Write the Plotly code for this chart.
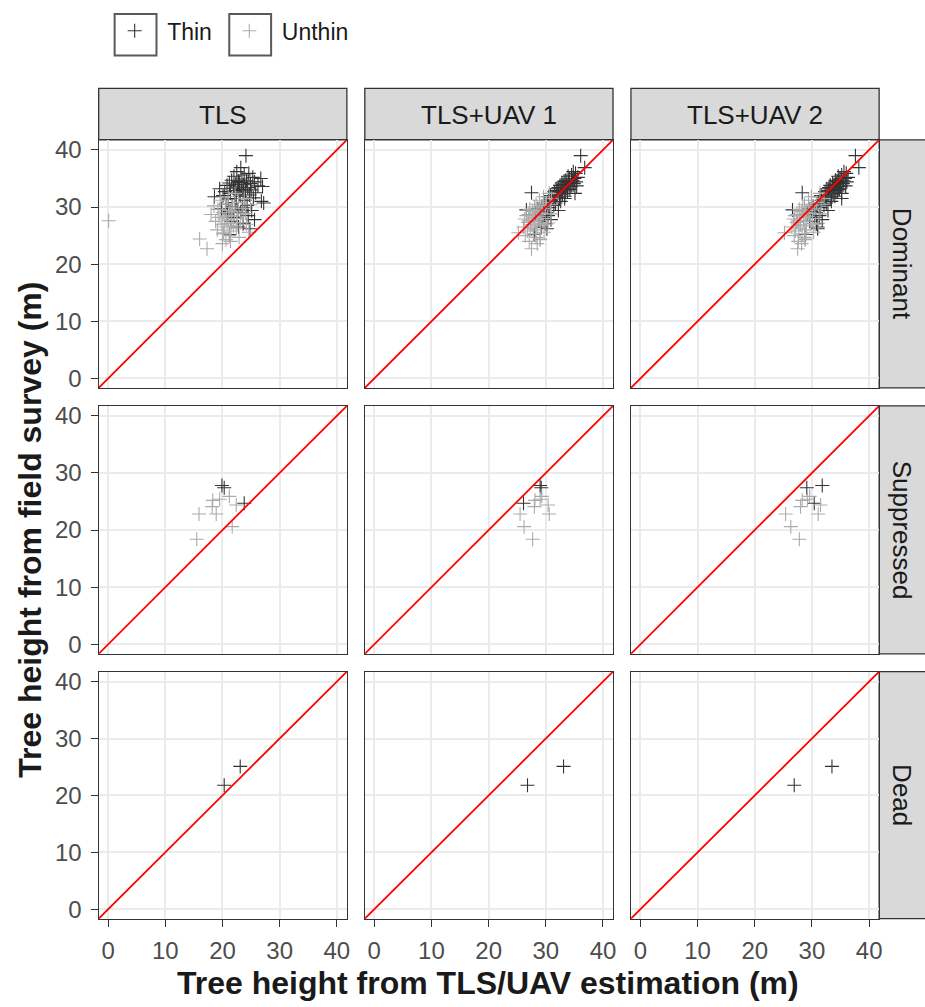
import plotly.graph_objects as go

# ---------------- data ----------------
methods = ["TLS", "TLS+UAV 1", "TLS+UAV 2"]
classes = ["Dominant", "Suppressed", "Dead"]
groups = ["Thin", "Unthin"]
tick_vals = [0, 10, 20, 30, 40]

# Dominant, Thin: field height and estimates by method
dom_thin_field = [39.0, 36.9, 36.2, 35.9, 35.6, 35.4, 35.2, 35.0, 34.9, 34.7, 34.6, 34.5, 34.4, 34.3, 34.2,
                  34.1, 34.0, 33.9, 33.8, 33.7, 33.6, 33.5, 33.4, 33.3, 33.2, 33.1, 33.0, 32.9, 32.8, 32.7,
                  32.6, 32.5, 32.4, 32.3, 32.1, 32.0, 31.9, 31.8, 31.6, 31.5, 31.4, 31.2, 31.0, 30.8, 30.7,
                  30.5, 30.3, 30.1, 29.9, 29.7, 29.5, 29.4, 29.2, 29.0, 28.8, 28.5, 28.2, 27.8, 27.5, 27.1,
                  26.5, 25.2, 26.2]
dom_thin_tls = [24.1, 23.2, 22.5, 24.6, 23.8, 22.0, 25.3, 26.7, 23.4, 21.6, 24.2, 22.8, 25.6, 23.0, 21.2,
                24.9, 22.3, 23.7, 20.8, 26.2, 27.0, 22.6, 24.4, 21.9, 19.5, 23.3, 25.0, 22.1, 24.0, 20.4,
                23.6, 25.8, 21.4, 22.9, 24.7, 20.1, 23.1, 18.6, 25.4, 22.4, 21.0, 23.9, 26.8, 22.2, 27.2,
                20.6, 24.3, 21.7, 23.5, 19.8, 22.7, 25.1, 21.3, 23.2, 20.9, 24.5, 22.0, 25.6, 21.5, 23.6,
                22.8, 21.2, 24.8]
dom_thin_uav1 = [36.1, 36.8, 34.8, 35.2, 34.5, 33.9, 35.6, 35.0, 34.1, 33.5, 34.7, 33.2, 35.3, 34.0, 32.8,
                 34.9, 33.6, 33.0, 32.5, 35.4, 34.4, 33.1, 32.2, 33.7, 31.8, 34.2, 33.4, 32.0, 33.8, 31.5,
                 32.7, 27.5, 35.1, 32.9, 31.9, 30.8, 33.3, 30.5, 32.4, 33.3, 31.2, 30.9, 32.6, 30.3, 31.7,
                 29.8, 31.4, 29.3, 30.6, 28.6, 26.6, 32.2, 29.0, 30.1, 28.2, 30.4, 29.5, 30.9, 28.8, 29.9,
                 29.2, 28.0, 30.2]
dom_thin_uav2 = [37.6, 38.2, 35.6, 36.0, 35.2, 34.6, 36.3, 35.8, 34.9, 34.1, 35.5, 34.4, 36.1, 34.7, 33.6,
                 35.4, 34.3, 33.9, 33.2, 35.9, 35.0, 33.8, 33.0, 34.6, 32.6, 34.8, 34.2, 32.9, 34.5, 32.3,
                 33.5, 28.3, 35.2, 33.7, 32.8, 31.6, 34.0, 31.4, 33.2, 35.2, 32.0, 31.7, 33.4, 31.2, 32.5,
                 30.9, 32.1, 30.2, 31.5, 29.5, 26.6, 32.8, 29.9, 30.7, 29.2, 31.3, 30.5, 31.8, 29.6, 30.8,
                 31.0, 28.9, 31.0]

# Dominant, Unthin
dom_unthin_field = [27.6, 24.4, 22.7, 25.5, 27.2, 31.8, 31.2, 30.8, 30.5, 30.2, 30.0, 29.8, 29.6, 29.4, 29.2,
                    29.0, 28.9, 28.7, 28.5, 28.4, 28.2, 28.0, 27.9, 27.7, 27.5, 27.3, 27.1, 26.9, 26.7, 26.5,
                    26.3, 26.0, 25.8, 25.6, 25.3, 25.0, 24.7, 24.3, 24.0, 23.6, 32.4, 31.5, 30.4, 28.8, 27.0]
dom_unthin_tls = [0.1, 16.0, 17.3, 20.2, 22.5, 21.0, 19.6, 22.8, 20.5, 18.5, 21.8, 23.4, 19.2, 21.3, 22.1,
                  20.0, 24.0, 18.0, 21.6, 20.7, 19.4, 22.6, 20.3, 21.1, 18.8, 23.1, 20.8, 19.9, 21.9, 20.4,
                  22.4, 19.1, 21.5, 24.6, 20.1, 21.2, 22.9, 20.6, 21.4, 20.0, 22.2, 23.8, 24.9, 23.6, 24.2]
dom_unthin_uav1 = [27.0, 29.0, 27.5, 25.2, 30.4, 29.6, 28.9, 30.1, 28.3, 29.4, 28.0, 29.9, 27.2, 28.6, 27.7,
                   29.2, 28.4, 27.0, 26.6, 28.8, 27.9, 29.5, 26.3, 27.4, 28.1, 26.9, 29.1, 27.6, 28.5, 26.1,
                   27.3, 28.2, 26.8, 29.7, 27.8, 26.4, 28.3, 29.0, 27.1, 28.5, 30.6, 31.0, 30.8, 30.9, 30.0]
dom_unthin_uav2 = [27.5, 28.8, 27.5, 25.2, 31.1, 29.9, 29.4, 30.8, 28.7, 30.0, 28.4, 30.5, 27.8, 29.1, 28.2,
                   29.6, 28.9, 27.4, 27.0, 29.3, 28.5, 30.1, 26.8, 27.9, 28.6, 27.3, 29.8, 28.0, 29.0, 26.5,
                   27.7, 28.8, 27.1, 30.3, 28.3, 26.9, 28.7, 28.8, 27.6, 28.2, 31.4, 32.1, 31.6, 31.4, 30.6]

# Suppressed
sup_thin_field = [27.8, 27.4, 24.7]
sup_thin_tls = [19.9, 20.3, 23.8]
sup_thin_uav1 = [29.0, 29.2, 26.1]
sup_thin_uav2 = [31.8, 29.1, 30.4]

sup_unthin_field = [25.4, 25.2, 25.9, 24.4, 24.1, 22.8, 22.8, 20.6, 18.4]
sup_unthin_tls = [19.5, 18.3, 21.2, 22.4, 18.2, 15.9, 18.9, 21.7, 15.5]
sup_unthin_uav1 = [29.0, 28.1, 29.3, 30.4, 28.0, 25.5, 30.6, 26.2, 27.7]
sup_unthin_uav2 = [29.2, 28.3, 29.6, 31.5, 28.0, 25.4, 31.1, 26.3, 27.8]

# Dead (Thin only)
dead_thin_field = [21.8, 25.1]
dead_thin_tls = [20.3, 23.1]
dead_thin_uav1 = [26.8, 33.1]
dead_thin_uav2 = [26.9, 33.5]

# 1:1 reference line
ab_slope = 1.0
ab_intercept = 0.0

data = {
    ("Dominant", "Thin"): (dom_thin_field, [dom_thin_tls, dom_thin_uav1, dom_thin_uav2]),
    ("Dominant", "Unthin"): (dom_unthin_field, [dom_unthin_tls, dom_unthin_uav1, dom_unthin_uav2]),
    ("Suppressed", "Thin"): (sup_thin_field, [sup_thin_tls, sup_thin_uav1, sup_thin_uav2]),
    ("Suppressed", "Unthin"): (sup_unthin_field, [sup_unthin_tls, sup_unthin_uav1, sup_unthin_uav2]),
    ("Dead", "Thin"): (dead_thin_field, [dead_thin_tls, dead_thin_uav1, dead_thin_uav2]),
}

# ---------------- styling / layout ----------------
W, H = 925, 1007
FONT = "Liberation Sans, Arial, sans-serif"
colors = {"Thin": "#333333", "Unthin": "#ABABAB"}
RANGE = [-1.65, 41.75]

col_px = [(99, 348), (366, 615), (633, 882)]
row_px = [(137, 387), (405, 655), (673, 922)]
strip_top = (85, 137)
strip_right = (882, 930)


def fx(px):
    return px / W


def fy(py):
    return 1 - py / H


fig = go.Figure()
shapes = []
annotations = []

legend_names = {"Thin": "legend", "Unthin": "legend2"}
shown = set()

for r, cls in enumerate(classes):
    for c, m in enumerate(methods):
        idx = r * 3 + c + 1
        xa = "x" if idx == 1 else f"x{idx}"
        ya = "y" if idx == 1 else f"y{idx}"
        for g in groups:
            if (cls, g) not in data:
                continue
            field, ests = data[(cls, g)]
            fig.add_trace(go.Scatter(
                x=ests[c], y=field, mode="markers", name=g,
                xaxis=xa, yaxis=ya, legend=legend_names[g],
                showlegend=(g not in shown), legendgroup=g,
                marker=dict(symbol="cross-thin", size=10,
                            line=dict(color=colors[g], width=1.1), color=colors[g]),
                hoverinfo="skip",
            ))
            shown.add(g)
        # 1:1 line
        shapes.append(dict(type="line", xref=xa, yref=ya,
                           x0=RANGE[0], y0=ab_slope * RANGE[0] + ab_intercept,
                           x1=RANGE[1], y1=ab_slope * RANGE[1] + ab_intercept,
                           line=dict(color="#FF0000", width=1.8), layer="above"))

        x0, x1 = col_px[c]
        y0, y1 = row_px[r]
        left = c == 0
        bottom = r == 2
        common = dict(range=RANGE, tickvals=tick_vals,
                      showgrid=True, gridcolor="#EBEBEB", gridwidth=1.6, zeroline=False,
                      showline=True, mirror=True, linecolor="#333333", linewidth=1.3,
                      ticklen=7, tickwidth=1.3, tickcolor="#333333",
                      tickfont=dict(family=FONT, size=24, color="#4D4D4D"))
        axx = dict(domain=[fx(x0), fx(x1)], ticks="outside" if bottom else "",
                   showticklabels=bottom, ticklabelstandoff=3, anchor=ya, **common)
        axy = dict(domain=[fy(y1), fy(y0)], ticks="outside" if left else "",
                   showticklabels=left, ticklabelstandoff=4, anchor=xa, **common)
        fig.update_layout({("xaxis" if idx == 1 else f"xaxis{idx}"): axx,
                           ("yaxis" if idx == 1 else f"yaxis{idx}"): axy})

# top strips
for c, m in enumerate(methods):
    x0, x1 = col_px[c]
    shapes.append(dict(type="rect", xref="paper", yref="paper",
                       x0=fx(x0), x1=fx(x1), y0=fy(strip_top[1]), y1=fy(strip_top[0]),
                       fillcolor="#D9D9D9", line=dict(color="#333333", width=1.3), layer="below"))
    annotations.append(dict(text=m, xref="paper", yref="paper", x=fx((x0 + x1) / 2),
                            y=fy((strip_top[0] + strip_top[1]) / 2 + 1), showarrow=False,
                            font=dict(family=FONT, size=26, color="#1A1A1A"),
                            xanchor="center", yanchor="middle"))
# right strips
for r, cls in enumerate(classes):
    y0, y1 = row_px[r]
    shapes.append(dict(type="rect", xref="paper", yref="paper",
                       x0=fx(strip_right[0]), x1=fx(strip_right[1]), y0=fy(y1), y1=fy(y0),
                       fillcolor="#D9D9D9", line=dict(color="#333333", width=1.3), layer="below"))
    annotations.append(dict(text=cls, xref="paper", yref="paper",
                            x=fx(905), y=fy((y0 + y1) / 2), showarrow=False,
                            textangle=90, font=dict(family=FONT, size=26, color="#1A1A1A"),
                            xanchor="center", yanchor="middle"))

# axis titles
annotations.append(dict(text="<b>Tree height from TLS/UAV estimation (m)</b>", xref="paper", yref="paper",
                        x=fx(490), y=fy(987), showarrow=False,
                        font=dict(family=FONT, size=32, color="#1A1A1A"),
                        xanchor="center", yanchor="middle"))
annotations.append(dict(text="<b>Tree height from field survey (m)</b>", xref="paper", yref="paper",
                        x=fx(30), y=fy(530), showarrow=False, textangle=-90,
                        font=dict(family=FONT, size=32, color="#1A1A1A"),
                        xanchor="center", yanchor="middle"))

# legend key boxes
for bx in [(115, 157), (230, 272)]:
    shapes.append(dict(type="rect", xref="paper", yref="paper",
                       x0=fx(bx[0]), x1=fx(bx[1]), y0=fy(52), y1=fy(10),
                       fillcolor="rgba(0,0,0,0)", line=dict(color="#595959", width=2)))

leg_common = dict(orientation="h", xanchor="left", yanchor="middle",
                  font=dict(family=FONT, size=23, color="#1A1A1A"),
                  bgcolor="rgba(0,0,0,0)", borderwidth=0, itemwidth=55)
fig.update_layout(
    width=W, height=H, margin=dict(l=0, r=0, t=0, b=0),
    paper_bgcolor="white", plot_bgcolor="white",
    shapes=shapes, annotations=annotations,
    legend=dict(x=fx(102.5), y=fy(27), **leg_common),
    legend2=dict(x=fx(217.5), y=fy(27), **leg_common),
)

# remove the default page margin so the figure sits at the window origin
fig.write_html("out.html", config={"displayModeBar": False},
               post_script="document.body.style.margin='0';document.documentElement.style.overflow='hidden';")
